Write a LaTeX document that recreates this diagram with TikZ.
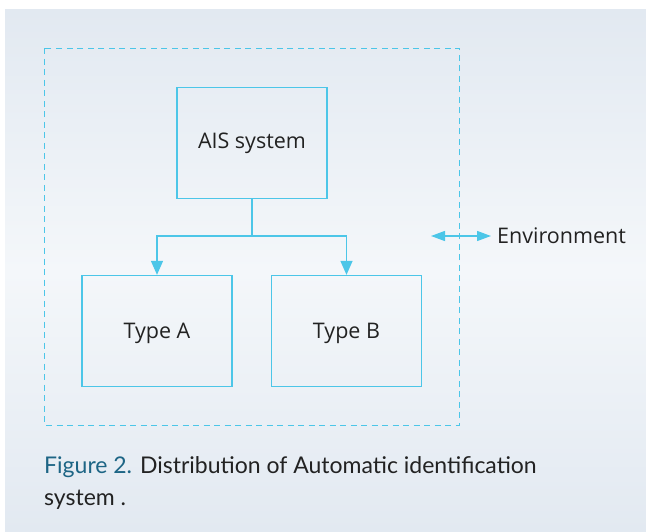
\documentclass[tikz,border=0pt]{standalone}
\usepackage{fontspec}
\setmainfont{Open Sans}
\newfontfamily\capfont{Lato}
\usetikzlibrary{arrows.meta}
\definecolor{aisline}{HTML}{4CC6E8}
\definecolor{panelback}{HTML}{E2E9F1}
\definecolor{panellight}{HTML}{F4F7FA}
\definecolor{capblue}{HTML}{1D6585}
\definecolor{captext}{HTML}{222222}
\tikzset{
  aisbox/.style={draw=aisline, line width=1.3pt, minimum width=150pt, minimum height=111pt, inner sep=0pt, font=\fontsize{21.5}{24}\selectfont, text=captext},
  aisarrow/.style={draw=aisline, line width=1.3pt, -{Triangle[width=12pt,length=14pt]}},
}
\begin{document}
\begin{tikzpicture}[x=1pt, y=-1pt]
\useasboundingbox (0,0) rectangle (646,532);
% background panel
\shade[top color=panelback, bottom color=panelback, middle color=panellight] (5,10) rectangle (646,532);
% environment border
\draw[aisline, line width=1pt, dash pattern=on 6pt off 4.5pt] (44.5,48.5) rectangle (459,425);

\node[aisbox] (ais) at (252,143) {AIS system};
\node[aisbox, text depth=0pt] (typea) at (157,331) {Type A};
\node[aisbox, text depth=0pt] (typeb) at (346.5,331) {Type B};

\coordinate (split) at (252,236);
\draw[draw=aisline, line width=1.3pt] (ais.south) -- (split);
\draw[aisarrow] (split) -| (typea.north);
\draw[aisarrow] (split) -| (typeb.north);

\coordinate (envl) at (431,236);
\coordinate (envr) at (491,236);
\draw[draw=aisline, line width=1.3pt, {Triangle[width=10pt,length=14pt]}-{Triangle[width=10pt,length=14pt]}] (envl) -- (envr);
\node[anchor=west, inner sep=0pt, font=\fontsize{21.5}{24}\selectfont, text=captext] (env) at (497,236) {Environment};

% caption
\node[anchor=north west, inner sep=0pt, align=left, font=\capfont\fontsize{23}{32}\selectfont, text=captext] (caption) at (44,456)
  {\textcolor{capblue}{Figure 2.} Distribution of Automatic identification\\system .};
\end{tikzpicture}
\end{document}
